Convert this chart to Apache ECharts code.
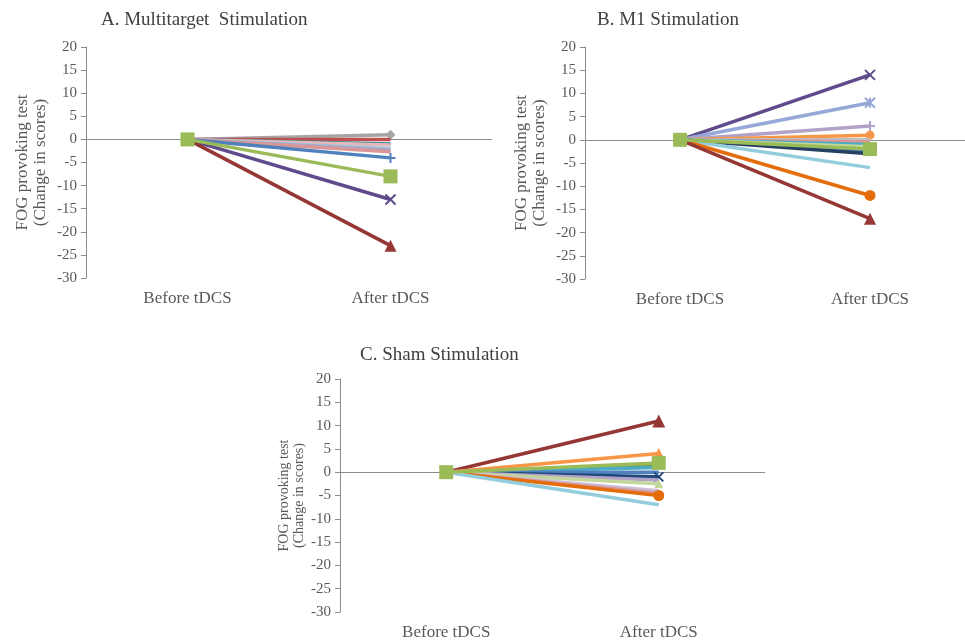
<!DOCTYPE html>
<html>
<head>
<meta charset="utf-8">
<script src="https://cdn.jsdelivr.net/npm/echarts@6/dist/echarts.min.js"></script>
<style>
  html, body { margin: 0; padding: 0; background: #fff; }
  #chart { width: 965px; height: 643px; }
</style>
</head>
<body>
<div id="chart"></div>
<script>
// categories on the x axis
const categories = ['Before tDCS', 'After tDCS']
const yTicks = { min: -30, max: 20, step: 5 }

// A. Multitarget stimulation: change in FOG scores per patient
const beforeA = [0, 0, 0, 0, 0, 0, 0, 0, 0, 0, 0]
const afterA = [1, 0, -1, -1.2, -2, -2.3, -2.7, -4, -13, -23, -8]

// B. M1 stimulation
const beforeB = [0, 0, 0, 0, 0, 0, 0, 0, 0, 0, 0, 0, 0, 0]
const afterB = [14, 8, 3, 1, 0, -0.5, -1, -1.5, -2.5, -3, -6, -12, -17, -2]

// C. Sham stimulation
const beforeC = [0, 0, 0, 0, 0, 0, 0, 0, 0, 0, 0, 0, 0]
const afterC = [11, 4, 1.5, 1, 0, -1, -1.7, -2.5, -4, -4.5, -5, -7, 2]

// marker / colour styles (same order as the values)
const X = 'path://M0,0 L10,10 M10,0 L0,10'
const PLUS = 'path://M5,0 L5,10 M0,5 L10,5'
const STAR = 'path://M0,0 L10,10 M10,0 L0,10 M5,0 L5,10'

const styleA = [
  ['#a6a6a6', 'diamond', 10], ['#c0504d', 'none', 0], ['#31859c', 'none', 0],
  ['#e6b9b8', 'none', 0], ['#93cddd', 'none', 0], ['#b3a2c7', 'none', 0],
  ['#d99694', 'none', 0], ['#4f81bd', PLUS, 10], ['#5f4b8b', X, 10],
  ['#953735', 'triangle', 12], ['#9bbb59', 'rect', 14]
]
const styleB = [
  ['#5f4b8b', X, 10], ['#95a8d8', STAR, 10], ['#b3a2c7', PLUS, 10],
  ['#f79646', 'circle', 9], ['#bfbfbf', 'none', 0], ['#d99694', 'none', 0],
  ['#4bacc6', 'none', 0], ['#c3d69b', 'none', 0], ['#4f81bd', 'none', 0],
  ['#254061', 'none', 0], ['#93cddd', 'none', 0], ['#e46c0a', 'circle', 11],
  ['#953735', 'triangle', 12], ['#9bbb59', 'rect', 14]
]
const styleC = [
  ['#953735', 'triangle', 13], ['#f79646', 'triangle', 11], ['#77933c', 'none', 0],
  ['#4bacc6', 'none', 0], ['#4f81bd', 'none', 0], ['#1f497d', X, 9],
  ['#b3a2c7', 'none', 0], ['#c3d69b', 'triangle', 9], ['#ccc1da', 'none', 0],
  ['#d99694', 'none', 0], ['#e46c0a', 'circle', 11], ['#93cddd', 'none', 0],
  ['#9bbb59', 'rect', 14]
]

const serif = 'Liberation Serif'
const axisGray = '#8c8c8c'
const textGray = '#595959'

const panels = [
  { title: 'A. Multitarget  Stimulation', tx: 96, ty: 6, grid: { left: 86, top: 47, width: 406, height: 231 },
    before: beforeA, after: afterA, style: styleA, nameSize: 17, nameGap: 36 },
  { title: 'B. M1 Stimulation', tx: 592, ty: 6, grid: { left: 585, top: 47, width: 392, height: 232 },
    before: beforeB, after: afterB, style: styleB, nameSize: 17, nameGap: 36 },
  { title: 'C. Sham Stimulation', tx: 355, ty: 341, grid: { left: 340, top: 379, width: 425, height: 233 },
    before: beforeC, after: afterC, style: styleC, nameSize: 14, nameGap: 31 }
]

const option = {
  animation: false,
  title: [], grid: [], xAxis: [], yAxis: [], series: []
}

panels.forEach((p, i) => {
  option.title.push({
    text: p.title, left: p.tx, top: p.ty,
    textStyle: { fontFamily: serif, fontSize: 19, fontWeight: 'normal', color: '#404040' }
  })
  option.grid.push(p.grid)
  option.xAxis.push({
    type: 'category', gridIndex: i, data: categories,
    axisLine: { show: false }, axisTick: { show: false },
    axisLabel: { fontFamily: serif, fontSize: 17, color: textGray, margin: 12 }
  })
  option.yAxis.push({
    type: 'value', gridIndex: i, min: yTicks.min, max: yTicks.max, interval: yTicks.step,
    name: 'FOG provoking test\n(Change in scores)', nameLocation: 'middle', nameGap: p.nameGap,
    nameTextStyle: { fontFamily: serif, fontSize: p.nameSize, color: textGray, lineHeight: p.nameSize + 1 },
    axisLine: { show: true, lineStyle: { color: axisGray } },
    axisTick: { show: true, length: 5, lineStyle: { color: axisGray } },
    axisLabel: { fontFamily: serif, fontSize: 15, color: textGray, margin: 9 },
    splitLine: { show: false }
  })
  p.after.forEach((v, k) => {
    const [color, symbol, size] = p.style[k]
    const s = {
      type: 'line', xAxisIndex: i, yAxisIndex: i,
      data: [p.before[k], v],
      symbol: symbol, symbolSize: size, showSymbol: symbol !== 'none',
      lineStyle: { color: color, width: 3.5 },
      itemStyle: { color: color, borderColor: color, borderWidth: symbol.startsWith('path') ? 2 : 0 },
      z: 3 + k
    }
    if (k === 0) {
      s.markLine = {
        silent: true, symbol: 'none', label: { show: false },
        lineStyle: { color: axisGray, width: 1, type: 'solid' },
        data: [{ yAxis: 0 }], z: 1
      }
    }
    option.series.push(s)
  })
})

const chart = echarts.init(document.getElementById('chart'))
chart.setOption(option)
</script>
</body>
</html>
